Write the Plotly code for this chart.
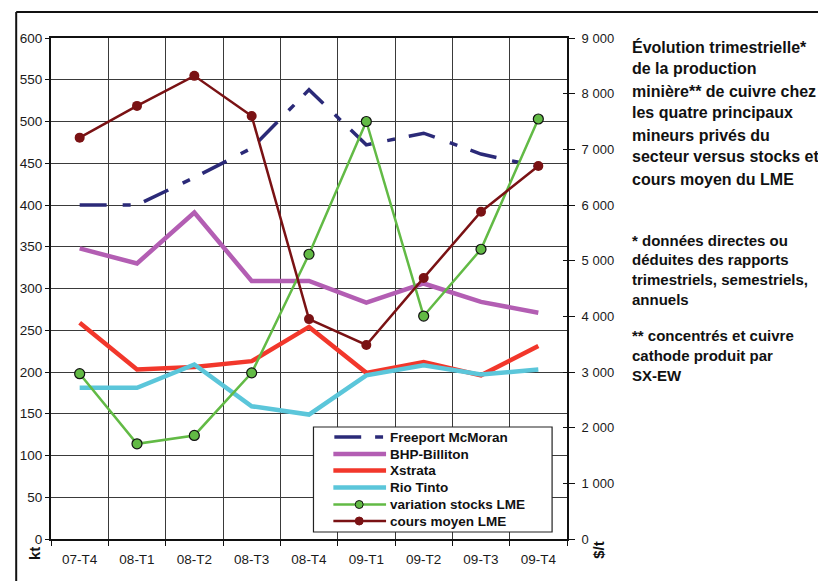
import plotly.graph_objects as go

categories = ["07-T4", "08-T1", "08-T2", "08-T3", "08-T4", "09-T1", "09-T2", "09-T3", "09-T4"]
freeport = [400, 400, 433, 468, 538, 472, 486, 461, 446]
bhp = [348, 330, 391, 309, 309, 283, 306, 284, 271]
xstrata = [259, 203, 206, 213, 254, 199, 212, 196, 231]
rio_tinto = [181, 181, 209, 159, 149, 196, 208, 197, 203]
stocks_lme = [198, 114, 124, 199, 341, 500, 267, 347, 503]
cours_lme = [7210, 7780, 8320, 7600, 3950, 3485, 4690, 5880, 6700]

left_ticks = list(range(0, 601, 50))
right_ticks = list(range(0, 9001, 1000))
right_ticktext = ["0", "1 000", "2 000", "3 000", "4 000", "5 000", "6 000", "7 000", "8 000", "9 000"]

# The page has an 8px body margin; work in page pixels and convert.
OFF = 8
W, H = 826 - OFF, 581 - OFF
L, R, T, B = 48, 567, 38, 539   # plot area in page pixels


def px(x):
    return (x - L) / (R - L)


def py(y):
    return (B - y) / (B - T)


FONT = "Liberation Sans, Arial, sans-serif"
INK = "#111111"

series = [
    dict(name="Freeport McMoran", y=freeport, color="#2B2A78", width=3.5, dash="27px,16px,8px,14px", marker=False, axis="y"),
    dict(name="BHP-Billiton", y=bhp, color="#B35EB3", width=4.5, dash="solid", marker=False, axis="y"),
    dict(name="Xstrata", y=xstrata, color="#F2372B", width=4.5, dash="solid", marker=False, axis="y"),
    dict(name="Rio Tinto", y=rio_tinto, color="#5BC6DA", width=4.5, dash="solid", marker=False, axis="y"),
    dict(name="variation stocks LME", y=stocks_lme, color="#62BA45", width=2.5, dash="solid", marker=True, axis="y"),
    dict(name="cours moyen LME", y=cours_lme, color="#7A1214", width=2.5, dash="solid", marker=True, axis="y2"),
]

fig = go.Figure()
for s in series:
    mk = None
    if s["marker"]:
        if s["axis"] == "y":
            mk = dict(symbol="circle", size=10, color=s["color"], line=dict(color=INK, width=1.2))
        else:
            mk = dict(symbol="circle", size=10, color=s["color"], line=dict(color=s["color"], width=0))
    fig.add_trace(go.Scatter(
        x=categories, y=s["y"], name=s["name"], yaxis=s["axis"],
        mode="lines+markers" if s["marker"] else "lines",
        line=dict(color=s["color"], width=s["width"], dash=s["dash"]),
        marker=mk, showlegend=False))

fig.update_layout(
    width=W, height=H,
    margin=dict(l=L - OFF, r=W - (R - OFF), t=T - OFF, b=H - (B - OFF), pad=0),
    paper_bgcolor="white", plot_bgcolor="white",
    showlegend=False,
    xaxis=dict(type="category", range=[-0.5, 8.5], tickson="boundaries",
               showgrid=True, gridcolor="#3a3a3a", gridwidth=1,
               ticks="outside", ticklen=5, tickcolor=INK,
               showline=True, linecolor=INK, linewidth=2, mirror=True,
               ticklabelstandoff=7,
               tickfont=dict(family=FONT, size=13.5, color="#1a1a1a"), zeroline=False),
    yaxis=dict(range=[0, 600], tickvals=left_ticks, showgrid=True, gridcolor="#3a3a3a", gridwidth=1,
               ticks="outside", ticklen=4, tickcolor=INK,
               showline=True, linecolor=INK, linewidth=2,
               tickfont=dict(family=FONT, size=13.5, color="#1a1a1a"), zeroline=False),
    yaxis2=dict(range=[0, 9000], tickvals=right_ticks, ticktext=right_ticktext,
                overlaying="y", side="right", showgrid=False,
                ticks="outside", ticklen=6, tickcolor=INK,
                showline=True, linecolor=INK, linewidth=2,
                ticklabelstandoff=4,
                tickfont=dict(family=FONT, size=13, color="#1a1a1a"), zeroline=False),
    yaxis3=dict(range=[0, 9000], tickvals=right_ticks, overlaying="y", side="right",
                showgrid=False, ticks="inside", ticklen=4, tickcolor=INK,
                showticklabels=False, showline=False, zeroline=False),
)
# invisible helper trace that activates yaxis3 (inner half of the crossing ticks)
fig.add_trace(go.Scatter(x=[categories[0]], y=[0], yaxis="y3", mode="markers",
                         marker=dict(opacity=0), showlegend=False, hoverinfo="skip"))

# Outer frame
fig.add_shape(type="line", xref="paper", yref="paper", x0=px(13), x1=px(840), y0=py(12), y1=py(12),
              line=dict(color=INK, width=2))
fig.add_shape(type="line", xref="paper", yref="paper", x0=px(13), x1=px(13), y0=py(12), y1=py(600),
              line=dict(color=INK, width=2))

# Legend (drawn box, samples and labels)
LG_X0, LG_X1, LG_Y0, LG_Y1 = 312, 552, 427, 532
row_y = [437, 454, 470.5, 487.5, 504.5, 521]
fig.add_shape(type="rect", xref="paper", yref="paper", layer="above",
              x0=px(LG_X0), x1=px(LG_X1), y0=py(LG_Y0), y1=py(LG_Y1),
              fillcolor="white", line=dict(color="#222222", width=1.2))
for s, yy in zip(series, row_y):
    if s["dash"] != "solid":
        for a, b in [(333, 360), (374, 382)]:
            fig.add_shape(type="line", xref="paper", yref="paper", layer="above",
                          x0=px(a), x1=px(b), y0=py(yy), y1=py(yy),
                          line=dict(color=s["color"], width=s["width"]))
    else:
        fig.add_shape(type="line", xref="paper", yref="paper", layer="above",
                      x0=px(332), x1=px(385), y0=py(yy), y1=py(yy),
                      line=dict(color=s["color"], width=s["width"]))
    if s["marker"]:
        edge = INK if s["axis"] == "y" else s["color"]
        fig.add_shape(type="circle", xref="paper", yref="paper", layer="above",
                      x0=px(354), x1=px(362), y0=py(yy + 4), y1=py(yy - 4),
                      fillcolor=s["color"], line=dict(color=edge, width=1))
    fig.add_annotation(text="<b>" + s["name"] + "</b>", xref="paper", yref="paper",
                       x=px(387), y=py(yy), xanchor="left", yanchor="middle", showarrow=False,
                       font=dict(family=FONT, size=13.5, color=INK))

# Axis titles
fig.add_annotation(text="<b>kt</b>", xref="paper", yref="paper", x=px(31), y=py(554),
                   xanchor="center", yanchor="middle",
                   showarrow=False, textangle=-90, font=dict(family=FONT, size=15, color=INK))
fig.add_annotation(text="<b>$/t</b>", xref="paper", yref="paper", x=px(598), y=py(550),
                   xanchor="center", yanchor="middle",
                   showarrow=False, textangle=-90, font=dict(family=FONT, size=15, color=INK))

title_lines = ["Évolution trimestrielle*", "de la production", "minière** de cuivre chez",
               "les quatre principaux", "mineurs privés du", "secteur versus stocks et",
               "cours moyen du LME"]
note1_lines = ["* données directes ou", "déduites des rapports", "trimestriels, semestriels,", "annuels"]
note2_lines = ["** concentrés et cuivre", "cathode produit par", "SX-EW"]

for i, t in enumerate(title_lines):
    fig.add_annotation(text="<b>" + t + "</b>", xref="paper", yref="paper", x=px(630), y=py(47 + i * 22),
                       xanchor="left", yanchor="middle", showarrow=False,
                       font=dict(family=FONT, size=16, color=INK))
for i, t in enumerate(note1_lines):
    fig.add_annotation(text="<b>" + t + "</b>", xref="paper", yref="paper", x=px(630), y=py(240 + i * 19.7),
                       xanchor="left", yanchor="middle", showarrow=False,
                       font=dict(family=FONT, size=15, color=INK))
for i, t in enumerate(note2_lines):
    fig.add_annotation(text="<b>" + t + "</b>", xref="paper", yref="paper", x=px(630), y=py(335 + i * 20),
                       xanchor="left", yanchor="middle", showarrow=False,
                       font=dict(family=FONT, size=15, color=INK))

fig.write_html("out.html")
